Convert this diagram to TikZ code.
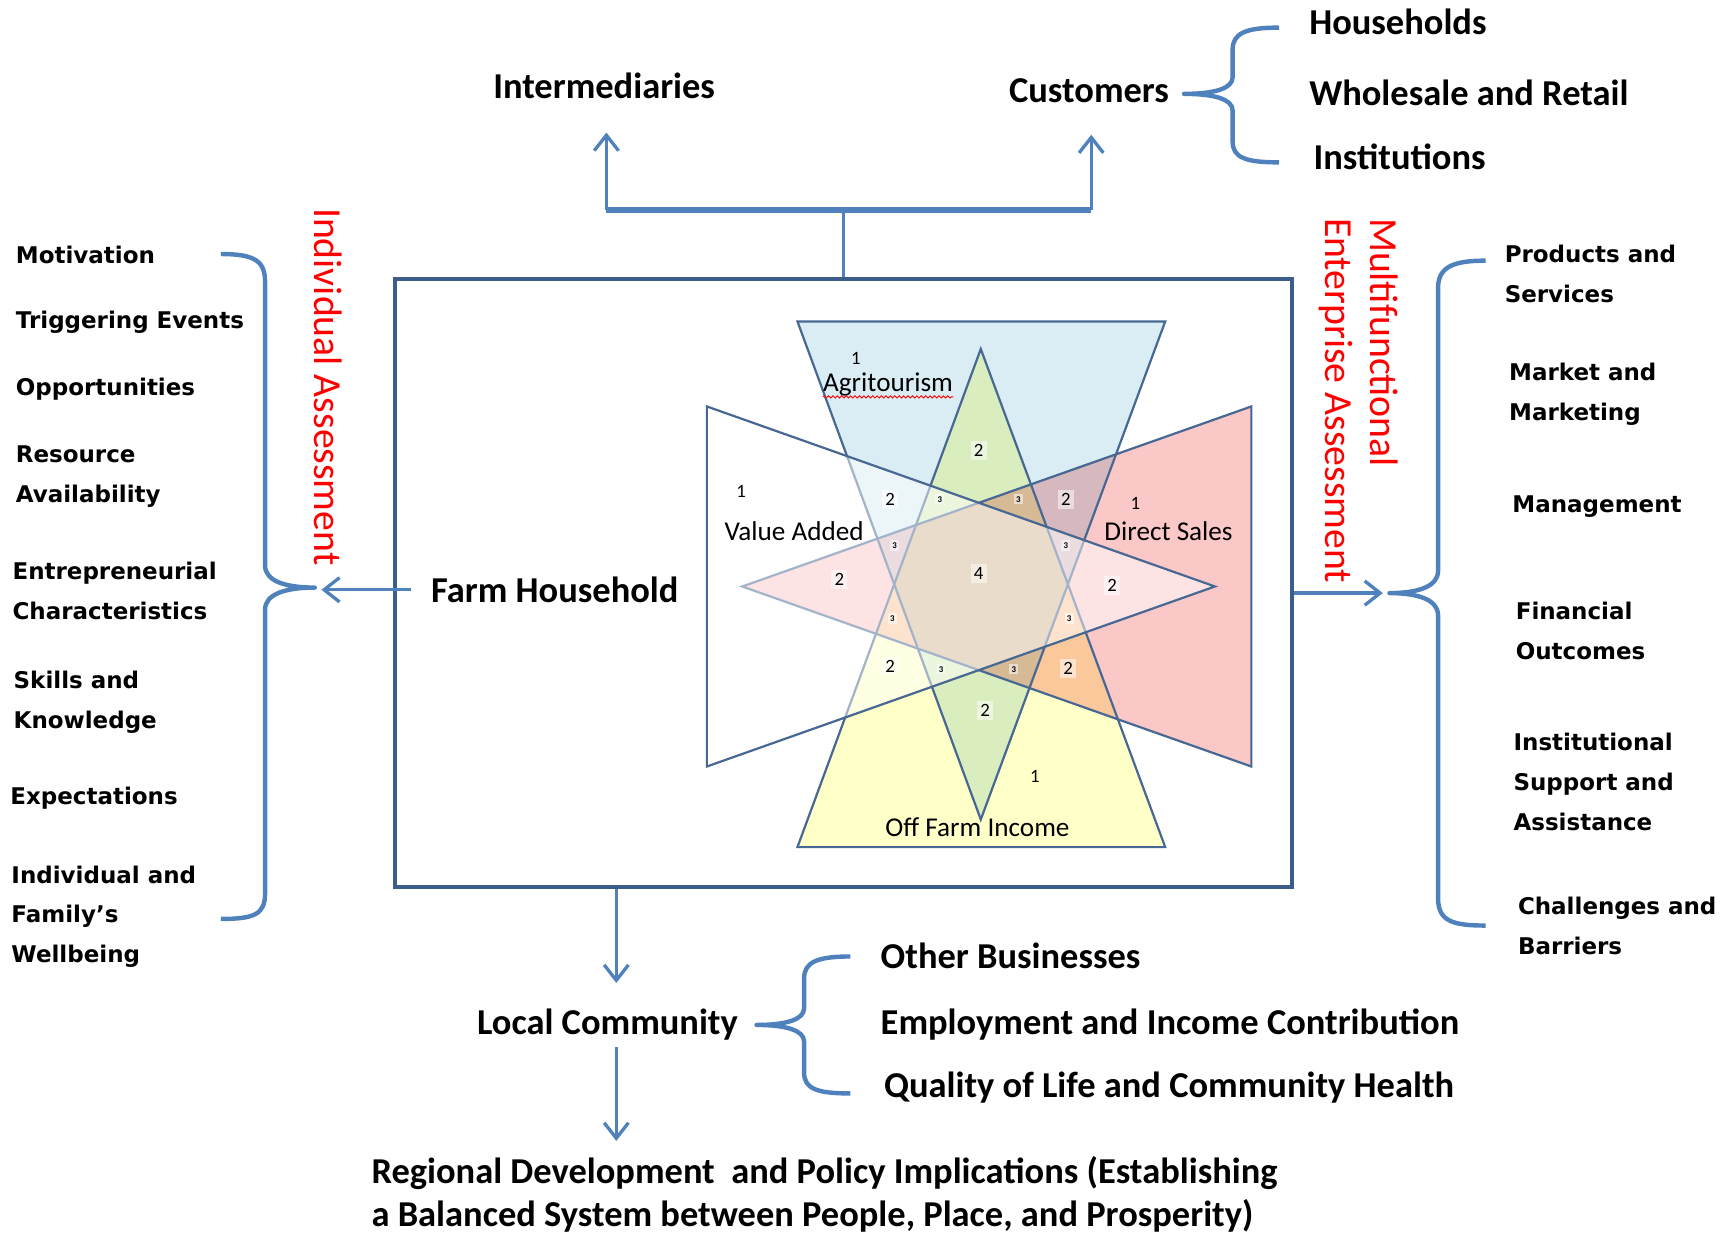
\documentclass[tikz,border=0pt]{standalone}
\usepackage{fontspec}
\setmainfont{Carlito}
\newfontfamily\listfont{DejaVu Sans}
\newfontfamily\sidefont{Carlito}
\usepackage{tikz}
\usetikzlibrary{positioning,calc,arrows.meta,decorations.pathmorphing}
\definecolor{linkblue}{RGB}{79,129,189}
\definecolor{boxblue}{RGB}{60,92,138}
\definecolor{edgeblue}{RGB}{72,104,148}
\definecolor{agriblue}{RGB}{218,237,244}
\definecolor{offyellow}{RGB}{255,255,200}
\definecolor{salepink}{RGB}{251,200,200}

\begin{document}
\begin{tikzpicture}%
	[x=0.5pt, y=-0.5pt,
	heading/.style = {font=\bfseries\fontsize{16.5}{19.5}\selectfont, inner sep=0pt},
	item/.style = {font=\listfont\bfseries\fontsize{10.4}{18}\selectfont, align=left, anchor=west, inner sep=0pt},
	side/.style = {font=\sidefont\fontsize{18}{20}\selectfont, text=red, rotate=-90, anchor=west, align=left, inner sep=0pt},
	frame/.style = {draw=boxblue, line width=1.8pt, minimum width=406pt, minimum height=275pt},
	wire/.style = {draw=linkblue, line width=1.5pt},
	link/.style = {wire, -{Straight Barb[length=7pt,width=11pt]}},
	curly/.style = {draw=linkblue, line width=2pt, line join=round},
	rim/.style = {draw=edgeblue, line width=1pt},
	kind/.style = {font=\fontsize{12.3}{12.3}\selectfont, inner sep=0pt},
	one/.style = {font=\fontsize{8.5}{8.5}\selectfont, inner sep=1.5pt},
	pair/.style = {one, fill=white, fill opacity=0.5, text opacity=1},
	triple/.style = {pair, font=\bfseries\fontsize{4}{4}\selectfont, inner sep=1pt}]
	\useasboundingbox (0,0) rectangle (1560,1117);
	
	% the four overlapping triangles
	\begin{scope}[blend mode=multiply]
		\fill[agriblue] (722,291) -- (1055,291) -- (888,742) -- cycle;
		\fill[offyellow] (722,767) -- (1055,767) -- (888,316) -- cycle;
		\fill[salepink] (1133,368) -- (1133,694) -- (672,531) -- cycle;
	\end{scope}
	\draw[rim] (722,291) -- (1055,291) -- (888,742) -- cycle;
	\draw[rim] (722,767) -- (1055,767) -- (888,316) -- cycle;
	\draw[rim] (1133,368) -- (1133,694) -- (672,531) -- cycle;
	\fill[white, fill opacity=0.5] (640,368) -- (640,694) -- (1100,531) -- cycle;
	\draw[rim] (640,368) -- (640,694) -- (1100,531) -- cycle;
	
	\node[kind] (agri) at (804,348) {Agritourism};
	\draw[red, line width=0.4pt, decorate, decoration={snake, amplitude=0.5pt, segment length=2pt}]
		([yshift=-2.5pt]agri.base west) -- ([yshift=-2.5pt]agri.base east);
	\node[kind] (value) at (719,481) {Value Added};
	\node[kind] (direct) at (1058,481) {Direct Sales};
	\node[kind] (offfarm) at (885,749) {Off Farm Income};
	
	\node[one] (one-a) at (775,325) {1};
	\node[one] (one-v) at (671,445) {1};
	\node[one] (one-d) at (1028,456) {1};
	\node[one] (one-o) at (937,703) {1};
	\node[pair] (two-n) at (886,408) {2};
	\node[pair] (two-nw) at (806,452) {2};
	\node[pair] (two-ne) at (965,452) {2};
	\node[pair] (two-w) at (760,525) {2};
	\node[pair] (two-e) at (1007,530) {2};
	\node[pair] (two-sw) at (806,603) {2};
	\node[pair] (two-se) at (967,605) {2};
	\node[pair] (two-s) at (892,643) {2};
	\node[triple] (three-a) at (851,452) {3};
	\node[triple] (three-b) at (922,452) {3};
	\node[triple] (three-c) at (810,494) {3};
	\node[triple] (three-d) at (965,494) {3};
	\node[triple] (three-e) at (808,560) {3};
	\node[triple] (three-f) at (968,560) {3};
	\node[triple] (three-g) at (852,606) {3};
	\node[triple] (three-h) at (918,606) {3};
	\node[pair] (four) at (886,519) {4};
	
	% farm household frame and its outlets
	\node[frame] (hh box) at (764,528) {};
	\node[heading, anchor=west] (farm) at (390,534) {Farm Household};
	
	\node[heading] (inter) at (547,78) {Intermediaries};
	\node[heading] (cust) at (986,82) {Customers};
	\node[heading, anchor=west] (homes) at (1185,20) {Households};
	\node[heading, anchor=west] (trade) at (1185,84) {Wholesale and Retail};
	\node[heading, anchor=west] (instn) at (1189,142) {Institutions};
	
	\coordinate (split) at (764,190);
	\coordinate (up inter) at (549,120);
	\coordinate (up cust) at (988,122);
	\draw[wire] (hh box.north) -- (split);
	\draw[wire, line width=2.5pt] (up inter |- split) -- (up cust |- split);
	\draw[link] (up inter |- split) -- (up inter);
	\draw[link] (up cust |- split) -- (up cust);
	\draw[curly] (1158,25) .. controls (1128,25) and (1116,30) .. (1116,45) -- (1116,70)
		.. controls (1116,80) and (1100,85) .. (1072,85) .. controls (1100,85) and (1116,90) .. (1116,100)
		-- (1116,128) .. controls (1116,143) and (1128,147) .. (1158,147);
	
	% individual side
	\node[side] (indiv) at (297,188) {Individual Assessment};
	\coordinate (ltip) at (291,534);
	\draw[link] ([xshift=-9pt]farm.west) -- (farm.west -| ltip);
	\draw[curly] (200,230) .. controls (230,230) and (240,236) .. (240,255) -- (240,512)
		.. controls (240,526) and (258,532) .. (285,532) .. controls (258,532) and (240,538) .. (240,552)
		-- (240,809) .. controls (240,828) and (230,832) .. (200,832);
	\node[item] (mot) at (14,231) {Motivation};
	\node[item] (trig) at (14,292) {Triggering Events};
	\node[item] (opp) at (14,352) {Opportunities};
	\node[item] (res) at (14,431.5) {Resource\\Availability};
	\node[item] (ent) at (11,535) {Entrepreneurial\\Characteristics};
	\node[item] (skill) at (12,635.5) {Skills and\\Knowledge};
	\node[item] (expect) at (9,723) {Expectations};
	\node[item] (fam) at (10,830) {Individual and\\Family’s\\Wellbeing};
	
	% enterprise side
	\node[side] (multi) at (1230,197) {Multifunctional\\Enterprise Assessment};
	\coordinate (rtip) at (1252,537);
	\draw[link] (hh box.east |- rtip) -- (rtip);
	\draw[curly] (1345,236) .. controls (1315,236) and (1302,242) .. (1302,261) -- (1302,517)
		.. controls (1302,531) and (1284,537) .. (1258,537) .. controls (1284,537) and (1302,543) .. (1302,557)
		-- (1302,813) .. controls (1302,834) and (1315,838) .. (1345,838);
	\node[item] (prod) at (1362,248) {Products and\\Services};
	\node[item] (mkt) at (1366,357) {Market and\\Marketing};
	\node[item] (mgmt) at (1369,459) {Management};
	\node[item] (fin) at (1372,571.5) {Financial\\Outcomes};
	\node[item] (inst) at (1370,708) {Institutional\\Support and\\Assistance};
	\node[item] (chal) at (1374,838) {Challenges and\\Barriers};
	
	% community and region
	\node[heading] (local) at (550,928) {Local Community};
	\coordinate (down local) at (558,890);
	\coordinate (local out) at (558,948);
	\coordinate (down region) at (558,1033);
	\draw[link] (hh box.south -| down local) -- (down local);
	\draw[link] (local out) -- (down region);
	\draw[curly] (770,866) .. controls (740,866) and (728,871) .. (728,886) -- (728,913)
		.. controls (728,923) and (712,928) .. (685,928) .. controls (712,928) and (728,933) .. (728,943)
		-- (728,971) .. controls (728,986) and (740,990) .. (770,990);
	\node[heading, anchor=west] (biz) at (797,865) {Other Businesses};
	\node[heading, anchor=west] (jobs) at (797,928) {Employment and Income Contribution};
	\node[heading, anchor=west] (life) at (800,985) {Quality of Life and Community Health};
	\node[heading, anchor=west, align=left] (region) at (336,1081) {Regional Development~ and Policy Implications (Establishing\\a Balanced System between People, Place, and Prosperity)};
	
\end{tikzpicture}
\end{document}
